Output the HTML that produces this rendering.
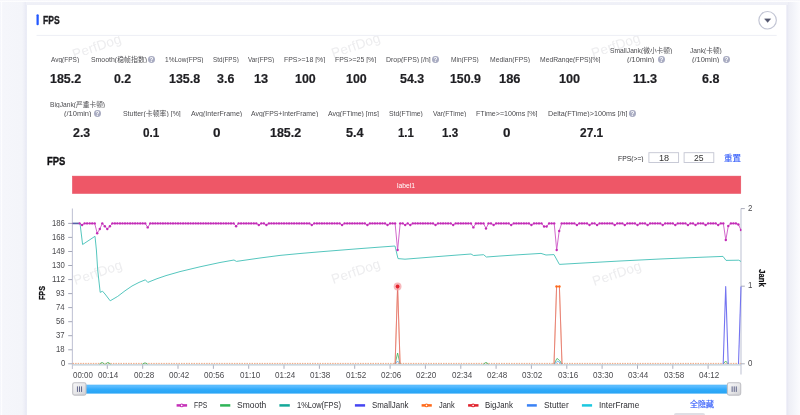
<!DOCTYPE html>
<html lang="zh-CN">
<head>
<meta charset="utf-8">
<title>PerfDog - FPS</title>
<style>

html,body{margin:0;padding:0;width:800px;height:415px;overflow:hidden;background:#f4f5fa}
.page{width:800px;height:415px;position:relative;overflow:hidden;background:#f4f5fa;font-family:"Liberation Sans", "Noto Sans CJK SC", sans-serif;}
.edge-l{position:absolute;left:0;top:0;width:28px;height:415px;background:linear-gradient(90deg,#f4f5fb 0,#f6f7fc 0.7px,#fdfdff 1.2px,#fcfcfe 1.9px,#f5f6fb 2.6px,#f4f5fa 22px,#eeeff7 24.5px,#e9eaf5 26px,#eceef7 26.8px,#fff 27.2px,#fff 28px)}
.edge-r{position:absolute;left:785px;top:0;width:15px;height:415px;background:linear-gradient(90deg,#fff 0,#fff 0.9px,#f1f1f9 1.4px,#e8e9f4 2.5px,#eeeff6 4px,#f1f2f8 7px,#f7f8fc 12px,#fbfbfe 15px)}
.edge-t{position:absolute;left:0;top:0;width:800px;height:2px;background:linear-gradient(180deg,#f5f5fa 0,#f8f8fc 0.6px,#fefeff 1px,#fdfdfe 1.8px,#f8f8fc 2px)}
.band-t{position:absolute;left:26px;top:2px;width:762px;height:3px;background:linear-gradient(180deg,#f4f5fa 0,#f0f1f8 0.5px,#eff0f7 2.5px,#f3f4fa 3px)}
.card{position:absolute;left:27px;top:5px;width:759px;height:410px;background:#fff}
.t{position:absolute;white-space:nowrap;transform-origin:0 50%;display:block}
.q{position:absolute;border-radius:50%;background:#a9acc2;color:#fff;text-align:center;font-weight:700}
.wm{position:absolute;width:60px;height:20px;line-height:20px;text-align:center;font-size:13.5px;color:#ededef;transform:rotate(-19deg);letter-spacing:.2px}
.plot{position:absolute;left:0;top:0}
.nxt{position:absolute;left:674px;top:413px;width:31px;height:6px;background:#dfdfe5;border-radius:2px}
.ylab{position:absolute;white-space:nowrap;font-weight:700;color:#111114;text-align:center}

</style>
</head>
<body>
<div class="page">
<div class="edge-l"></div><div class="edge-r"></div><div class="band-t"></div><div class="edge-t"></div>
<div class="card"></div>
<span class="wm" style="left:67.0px;top:37.0px">PerfDog</span>
<span class="wm" style="left:326.0px;top:36.0px">PerfDog</span>
<span class="wm" style="left:586.0px;top:36.0px">PerfDog</span>
<span class="wm" style="left:67.5px;top:262.8px">PerfDog</span>
<span class="wm" style="left:326.0px;top:261.5px">PerfDog</span>
<span class="wm" style="left:586.5px;top:263.5px">PerfDog</span>
<div class="nxt"></div>
<svg class="plot" width="800" height="415" viewBox="0 0 800 415">
<defs><linearGradient id="tg" x1="0" y1="0" x2="0" y2="1"><stop offset="0" stop-color="#4cb2f6"/><stop offset=".12" stop-color="#60bfff"/><stop offset=".36" stop-color="#46b3fd"/><stop offset=".52" stop-color="#30abfa"/><stop offset="1" stop-color="#29a4f4"/></linearGradient><linearGradient id="hg" x1="0" y1="0" x2="1" y2="1"><stop offset="0" stop-color="#f8f8f9"/><stop offset=".55" stop-color="#e6e6e8"/><stop offset="1" stop-color="#cfcfd3"/></linearGradient></defs>
<rect x="36.5" y="14.25" width="2.25" height="11.1" rx="1.1" fill="#2358ff"/>
<line x1="36.5" y1="35.4" x2="776.7" y2="35.4" stroke="#edeff5" stroke-width="1"/>
<circle cx="767.6" cy="20.25" r="8.75" fill="#fff" stroke="#c2c5d4" stroke-width="1.15"/>
<path d="M764.45 18.85 L770.85 18.85 L767.65 22.55 Z" fill="#52556d" stroke="#52556d" stroke-width="0.3" stroke-linejoin="round"/>
<rect x="72.4" y="176.1" width="668.4" height="17.4" fill="#ee5767" stroke="#e64d60" stroke-width="0.5"/>
<rect x="648.9" y="152.7" width="29.7" height="9.8" fill="#fff" stroke="#c3c5d2" stroke-width="0.9"/>
<rect x="684.1" y="152.7" width="29.7" height="9.8" fill="#fff" stroke="#c3c5d2" stroke-width="0.9"/>
<rect x="80" y="384.7" width="654" height="8.9" fill="url(#tg)"/>
<rect x="72.7" y="382.7" width="13.3" height="12.4" rx="1.8" fill="url(#hg)" stroke="#c0c0c5" stroke-width="1.1"/>
<rect x="76.95" y="386.4" width="0.95" height="5.5" fill="#5a5f85"/>
<rect x="79.05" y="386.4" width="0.95" height="5.5" fill="#5a5f85"/>
<rect x="81.10" y="386.4" width="0.95" height="5.5" fill="#5a5f85"/>
<rect x="727.4" y="382.7" width="13.3" height="12.4" rx="1.8" fill="url(#hg)" stroke="#c0c0c5" stroke-width="1.1"/>
<rect x="731.65" y="386.4" width="0.95" height="5.5" fill="#5a5f85"/>
<rect x="733.75" y="386.4" width="0.95" height="5.5" fill="#5a5f85"/>
<rect x="735.80" y="386.4" width="0.95" height="5.5" fill="#5a5f85"/>
<line x1="72.4" y1="208.4" x2="72.4" y2="369" stroke="#c3c6d6" stroke-width="1.1"/>
<line x1="741.0" y1="208.4" x2="741.0" y2="374.4" stroke="#c3c6d6" stroke-width="1.1"/>
<line x1="68.2" y1="223.4" x2="72.1" y2="223.4" stroke="#9a9db0" stroke-width="0.9"/>
<line x1="68.2" y1="237.4" x2="72.1" y2="237.4" stroke="#9a9db0" stroke-width="0.9"/>
<line x1="68.2" y1="251.5" x2="72.1" y2="251.5" stroke="#9a9db0" stroke-width="0.9"/>
<line x1="68.2" y1="265.5" x2="72.1" y2="265.5" stroke="#9a9db0" stroke-width="0.9"/>
<line x1="68.2" y1="279.6" x2="72.1" y2="279.6" stroke="#9a9db0" stroke-width="0.9"/>
<line x1="68.2" y1="293.6" x2="72.1" y2="293.6" stroke="#9a9db0" stroke-width="0.9"/>
<line x1="68.2" y1="307.6" x2="72.1" y2="307.6" stroke="#9a9db0" stroke-width="0.9"/>
<line x1="68.2" y1="321.7" x2="72.1" y2="321.7" stroke="#9a9db0" stroke-width="0.9"/>
<line x1="68.2" y1="335.7" x2="72.1" y2="335.7" stroke="#9a9db0" stroke-width="0.9"/>
<line x1="68.2" y1="349.8" x2="72.1" y2="349.8" stroke="#9a9db0" stroke-width="0.9"/>
<line x1="68.2" y1="363.8" x2="72.1" y2="363.8" stroke="#9a9db0" stroke-width="0.9"/>
<line x1="741.0" y1="208.6" x2="744.8" y2="208.6" stroke="#a3a5b4" stroke-width="0.9"/>
<line x1="741.0" y1="286.2" x2="744.8" y2="286.2" stroke="#a3a5b4" stroke-width="0.9"/>
<line x1="741.0" y1="363.8" x2="744.8" y2="363.8" stroke="#a3a5b4" stroke-width="0.9"/>
<line x1="107.3" y1="364.5" x2="107.3" y2="368.8" stroke="#a7a9b8" stroke-width="0.95"/>
<line x1="142.7" y1="364.5" x2="142.7" y2="368.8" stroke="#a7a9b8" stroke-width="0.95"/>
<line x1="178.0" y1="364.5" x2="178.0" y2="368.8" stroke="#a7a9b8" stroke-width="0.95"/>
<line x1="213.4" y1="364.5" x2="213.4" y2="368.8" stroke="#a7a9b8" stroke-width="0.95"/>
<line x1="248.7" y1="364.5" x2="248.7" y2="368.8" stroke="#a7a9b8" stroke-width="0.95"/>
<line x1="284.0" y1="364.5" x2="284.0" y2="368.8" stroke="#a7a9b8" stroke-width="0.95"/>
<line x1="319.4" y1="364.5" x2="319.4" y2="368.8" stroke="#a7a9b8" stroke-width="0.95"/>
<line x1="354.7" y1="364.5" x2="354.7" y2="368.8" stroke="#a7a9b8" stroke-width="0.95"/>
<line x1="390.1" y1="364.5" x2="390.1" y2="368.8" stroke="#a7a9b8" stroke-width="0.95"/>
<line x1="425.4" y1="364.5" x2="425.4" y2="368.8" stroke="#a7a9b8" stroke-width="0.95"/>
<line x1="460.8" y1="364.5" x2="460.8" y2="368.8" stroke="#a7a9b8" stroke-width="0.95"/>
<line x1="496.1" y1="364.5" x2="496.1" y2="368.8" stroke="#a7a9b8" stroke-width="0.95"/>
<line x1="531.4" y1="364.5" x2="531.4" y2="368.8" stroke="#a7a9b8" stroke-width="0.95"/>
<line x1="566.8" y1="364.5" x2="566.8" y2="368.8" stroke="#a7a9b8" stroke-width="0.95"/>
<line x1="602.1" y1="364.5" x2="602.1" y2="368.8" stroke="#a7a9b8" stroke-width="0.95"/>
<line x1="637.5" y1="364.5" x2="637.5" y2="368.8" stroke="#a7a9b8" stroke-width="0.95"/>
<line x1="672.8" y1="364.5" x2="672.8" y2="368.8" stroke="#a7a9b8" stroke-width="0.95"/>
<line x1="708.1" y1="364.5" x2="708.1" y2="368.8" stroke="#a7a9b8" stroke-width="0.95"/>
<line x1="72.6" y1="364.8" x2="741.0" y2="364.8" stroke="#bccbd6" stroke-width="1.3"/>
<line x1="72.6" y1="363.4" x2="741.0" y2="363.4" stroke="#ea8a58" stroke-width="0.9" stroke-dasharray="1.5 1.02" opacity=".85"/>
<polyline points="72.6,223.3 80.0,223.3 82.6,244.5 95.0,236.3 96.4,250.0 97.7,270.0 100.2,292.4 102.5,291.2 105.0,294.0 110.2,300.8 117.7,296.4 125.0,290.8 132.0,286.0 139.0,282.4 145.4,279.8 147.8,282.4 157.0,278.7 166.0,275.6 180.0,271.6 200.0,266.8 220.0,262.5 234.0,260.0 236.4,261.4 260.0,258.0 280.0,255.4 300.0,253.5 320.0,251.8 340.0,250.2 360.0,248.6 380.0,247.1 395.0,246.0 398.0,258.6 405.0,259.2 430.0,257.2 450.0,255.6 471.0,254.0 473.6,255.5 483.6,254.7 486.4,257.0 500.0,256.0 520.0,254.7 541.0,253.4 546.0,255.0 554.0,254.6 559.4,264.4 580.0,263.2 620.0,261.0 660.0,259.0 700.0,257.3 723.0,256.4 726.0,260.4 738.8,260.2 741.0,261.5" fill="none" stroke="#4cc3bb" stroke-width="0.95" stroke-linejoin="round" />
<polyline points="99.5,364.0 102.0,362.4 104.5,364.0" fill="none" stroke="#3cb45a" stroke-width="0.8" stroke-linejoin="round" />
<polyline points="105.5,364.0 108.0,362.4 110.5,364.0" fill="none" stroke="#3cb45a" stroke-width="0.8" stroke-linejoin="round" />
<polyline points="142.5,364.0 145.0,362.8 147.5,364.0" fill="none" stroke="#3cb45a" stroke-width="0.8" stroke-linejoin="round" />
<polyline points="483.5,364.0 486.0,362.4 488.5,364.0" fill="none" stroke="#3cb45a" stroke-width="0.8" stroke-linejoin="round" />
<polyline points="723.2,364.0 725.7,361.0 728.2,364.0" fill="none" stroke="#3cb45a" stroke-width="0.8" stroke-linejoin="round" />
<polyline points="395.1,364.0 397.6,353.0 400.1,364.0" fill="none" stroke="#3cb45a" stroke-width="0.8" stroke-linejoin="round" />
<polyline points="395.1,364.0 397.6,361.0 400.1,364.0" fill="none" stroke="#4aa3ee" stroke-width="0.8" stroke-linejoin="round" />
<polyline points="554.0,364.0 557.0,358.4 559.6,360.5 562.0,364.0" fill="none" stroke="#3cb45a" stroke-width="0.8" stroke-linejoin="round" />
<polyline points="554.0,364.0 557.8,361.2 562.0,364.0" fill="none" stroke="#4aa3ee" stroke-width="0.8" stroke-linejoin="round" />
<polyline points="395.1,364.0 397.6,286.5 400.1,364.0" fill="none" stroke="#f7a070" stroke-width="0.9" stroke-linejoin="round" />
<polyline points="395.1,364.0 397.6,286.5 400.1,364.0" fill="none" stroke="#dc6670" stroke-width="0.8" stroke-linejoin="round" opacity=".8"/>
<circle cx="397.6" cy="286.5" r="3.9" fill="#f4a0a6" opacity=".75"/>
<circle cx="397.6" cy="286.5" r="1.9" fill="#e5222c"/>
<polyline points="554.0,364.0 556.6,286.5 559.4,286.5 562.0,364.0" fill="none" stroke="#f7a070" stroke-width="0.9" stroke-linejoin="round" />
<polyline points="554.0,364.0 556.6,286.5 559.4,286.5 562.0,364.0" fill="none" stroke="#dc6670" stroke-width="0.8" stroke-linejoin="round" opacity=".75"/>
<circle cx="556.6" cy="286.5" r="1.3" fill="#ff6a1a"/><circle cx="559.4" cy="286.5" r="1.3" fill="#ff6a1a"/>
<polyline points="723.2,364.0 725.7,286.5 728.2,364.0" fill="none" stroke="#7474f0" stroke-width="1.1" stroke-linejoin="round" />
<polyline points="738.5,364.0 741.0,286.5" fill="none" stroke="#7474f0" stroke-width="1.1" stroke-linejoin="round" />
<clipPath id="cp"><rect x="71" y="205" width="670.4" height="162"/></clipPath>
<g clip-path="url(#cp)">
<polyline points="72.0,223.4 74.5,223.4 77.0,223.4 79.6,223.4 82.1,225.0 84.6,223.4 87.1,223.4 89.7,223.4 92.2,223.4 94.7,223.4 97.2,233.2 99.8,229.0 102.3,223.4 104.8,226.3 107.3,229.0 109.9,226.3 112.4,223.4 114.9,223.4 117.4,223.4 120.0,223.4 122.5,223.4 125.0,223.4 127.5,223.4 130.1,223.4 132.6,223.4 135.1,223.4 137.6,223.4 140.2,223.4 142.7,223.4 145.2,223.4 147.7,227.4 150.3,223.4 152.8,223.4 155.3,223.4 157.8,223.4 160.4,223.4 162.9,223.4 165.4,223.4 167.9,223.4 170.5,223.4 173.0,223.4 175.5,223.4 178.0,223.4 180.5,223.4 183.1,223.4 185.6,223.4 188.1,223.4 190.6,223.4 193.2,223.4 195.7,223.4 198.2,223.4 200.7,223.4 203.3,223.4 205.8,223.4 208.3,223.4 210.8,223.4 213.4,223.4 215.9,223.4 218.4,223.4 220.9,223.4 223.5,223.4 226.0,223.4 228.5,223.4 231.0,223.4 233.6,223.4 236.1,226.2 238.6,223.4 241.1,223.4 243.7,223.4 246.2,223.4 248.7,223.4 251.2,223.4 253.8,223.4 256.3,223.4 258.8,225.0 261.3,223.4 263.9,223.4 266.4,225.0 268.9,223.4 271.4,223.4 273.9,223.4 276.5,223.4 279.0,223.4 281.5,223.4 284.0,223.4 286.6,223.4 289.1,223.4 291.6,223.4 294.1,223.4 296.7,223.4 299.2,223.4 301.7,223.4 304.2,223.4 306.8,223.4 309.3,223.4 311.8,225.0 314.3,223.4 316.9,223.4 319.4,223.4 321.9,223.4 324.4,223.4 327.0,223.4 329.5,223.4 332.0,223.4 334.5,223.4 337.1,223.4 339.6,223.4 342.1,225.0 344.6,223.4 347.2,223.4 349.7,223.4 352.2,223.4 354.7,223.4 357.3,223.4 359.8,223.4 362.3,223.4 364.8,223.4 367.4,225.0 369.9,223.4 372.4,223.4 374.9,223.4 377.4,223.4 380.0,223.4 382.5,223.4 385.0,223.4 387.5,225.0 390.1,223.4 392.6,223.4 395.1,223.4 397.6,250.0 400.2,223.4 402.7,223.4 405.2,225.0 407.7,223.4 410.3,225.0 412.8,223.4 415.3,223.4 417.8,223.4 420.4,223.4 422.9,223.4 425.4,223.4 427.9,223.4 430.5,223.4 433.0,223.4 435.5,225.0 438.0,223.4 440.6,223.4 443.1,223.4 445.6,223.4 448.1,223.4 450.7,223.4 453.2,225.0 455.7,223.4 458.2,223.4 460.8,223.4 463.3,223.4 465.8,223.4 468.3,223.4 470.9,223.4 473.4,227.4 475.9,223.4 478.4,223.4 480.9,223.4 483.5,223.4 486.0,228.6 488.5,223.4 491.0,223.4 493.6,225.0 496.1,223.4 498.6,223.4 501.1,223.4 503.7,223.4 506.2,223.4 508.7,223.4 511.2,225.0 513.8,223.4 516.3,223.4 518.8,223.4 521.3,223.4 523.9,223.4 526.4,223.4 528.9,223.4 531.4,225.0 534.0,223.4 536.5,223.4 539.0,223.4 541.5,223.4 544.1,226.5 546.6,226.5 549.1,223.4 551.6,223.4 554.2,223.4 556.7,250.0 559.2,231.0 561.7,223.4 564.3,223.4 566.8,223.4 569.3,223.4 571.8,223.4 574.3,223.4 576.9,225.0 579.4,223.4 581.9,223.4 584.4,223.4 587.0,223.4 589.5,225.0 592.0,223.4 594.5,223.4 597.1,225.0 599.6,223.4 602.1,223.4 604.6,223.4 607.2,223.4 609.7,223.4 612.2,223.4 614.7,225.0 617.3,223.4 619.8,223.4 622.3,223.4 624.8,225.0 627.4,223.4 629.9,223.4 632.4,223.4 634.9,223.4 637.5,225.0 640.0,223.4 642.5,223.4 645.0,223.4 647.6,225.0 650.1,223.4 652.6,223.4 655.1,223.4 657.7,223.4 660.2,223.4 662.7,225.0 665.2,223.4 667.8,223.4 670.3,223.4 672.8,223.4 675.3,225.0 677.8,223.4 680.4,223.4 682.9,223.4 685.4,223.4 687.9,225.0 690.5,223.4 693.0,223.4 695.5,225.0 698.0,223.4 700.6,223.4 703.1,223.4 705.6,225.0 708.1,223.4 710.7,223.4 713.2,223.4 715.7,223.4 718.2,225.0 720.8,223.4 723.3,223.4 725.8,240.0 728.3,226.0 730.9,223.4 733.4,223.4 735.9,223.4 738.4,224.5 741.0,230.0" fill="none" stroke="#d060c8" stroke-width="0.95" stroke-linejoin="round" />
<g fill="#c22bb6"><circle cx="79.6" cy="223.4" r="1.2"/><circle cx="82.1" cy="225.0" r="1.2"/><circle cx="84.6" cy="223.4" r="1.2"/><circle cx="87.1" cy="223.4" r="1.2"/><circle cx="89.7" cy="223.4" r="1.2"/><circle cx="92.2" cy="223.4" r="1.2"/><circle cx="94.7" cy="223.4" r="1.2"/><circle cx="97.2" cy="233.2" r="1.2"/><circle cx="99.8" cy="229.0" r="1.2"/><circle cx="102.3" cy="223.4" r="1.2"/><circle cx="104.8" cy="226.3" r="1.2"/><circle cx="107.3" cy="229.0" r="1.2"/><circle cx="109.9" cy="226.3" r="1.2"/><circle cx="112.4" cy="223.4" r="1.2"/><circle cx="114.9" cy="223.4" r="1.2"/><circle cx="117.4" cy="223.4" r="1.2"/><circle cx="120.0" cy="223.4" r="1.2"/><circle cx="122.5" cy="223.4" r="1.2"/><circle cx="125.0" cy="223.4" r="1.2"/><circle cx="127.5" cy="223.4" r="1.2"/><circle cx="130.1" cy="223.4" r="1.2"/><circle cx="132.6" cy="223.4" r="1.2"/><circle cx="135.1" cy="223.4" r="1.2"/><circle cx="137.6" cy="223.4" r="1.2"/><circle cx="140.2" cy="223.4" r="1.2"/><circle cx="142.7" cy="223.4" r="1.2"/><circle cx="145.2" cy="223.4" r="1.2"/><circle cx="147.7" cy="227.4" r="1.2"/><circle cx="150.3" cy="223.4" r="1.2"/><circle cx="152.8" cy="223.4" r="1.2"/><circle cx="155.3" cy="223.4" r="1.2"/><circle cx="157.8" cy="223.4" r="1.2"/><circle cx="160.4" cy="223.4" r="1.2"/><circle cx="162.9" cy="223.4" r="1.2"/><circle cx="165.4" cy="223.4" r="1.2"/><circle cx="167.9" cy="223.4" r="1.2"/><circle cx="170.5" cy="223.4" r="1.2"/><circle cx="173.0" cy="223.4" r="1.2"/><circle cx="175.5" cy="223.4" r="1.2"/><circle cx="178.0" cy="223.4" r="1.2"/><circle cx="180.5" cy="223.4" r="1.2"/><circle cx="183.1" cy="223.4" r="1.2"/><circle cx="185.6" cy="223.4" r="1.2"/><circle cx="188.1" cy="223.4" r="1.2"/><circle cx="190.6" cy="223.4" r="1.2"/><circle cx="193.2" cy="223.4" r="1.2"/><circle cx="195.7" cy="223.4" r="1.2"/><circle cx="198.2" cy="223.4" r="1.2"/><circle cx="200.7" cy="223.4" r="1.2"/><circle cx="203.3" cy="223.4" r="1.2"/><circle cx="205.8" cy="223.4" r="1.2"/><circle cx="208.3" cy="223.4" r="1.2"/><circle cx="210.8" cy="223.4" r="1.2"/><circle cx="213.4" cy="223.4" r="1.2"/><circle cx="215.9" cy="223.4" r="1.2"/><circle cx="218.4" cy="223.4" r="1.2"/><circle cx="220.9" cy="223.4" r="1.2"/><circle cx="223.5" cy="223.4" r="1.2"/><circle cx="226.0" cy="223.4" r="1.2"/><circle cx="228.5" cy="223.4" r="1.2"/><circle cx="231.0" cy="223.4" r="1.2"/><circle cx="233.6" cy="223.4" r="1.2"/><circle cx="236.1" cy="226.2" r="1.2"/><circle cx="238.6" cy="223.4" r="1.2"/><circle cx="241.1" cy="223.4" r="1.2"/><circle cx="243.7" cy="223.4" r="1.2"/><circle cx="246.2" cy="223.4" r="1.2"/><circle cx="248.7" cy="223.4" r="1.2"/><circle cx="251.2" cy="223.4" r="1.2"/><circle cx="253.8" cy="223.4" r="1.2"/><circle cx="256.3" cy="223.4" r="1.2"/><circle cx="258.8" cy="225.0" r="1.2"/><circle cx="261.3" cy="223.4" r="1.2"/><circle cx="263.9" cy="223.4" r="1.2"/><circle cx="266.4" cy="225.0" r="1.2"/><circle cx="268.9" cy="223.4" r="1.2"/><circle cx="271.4" cy="223.4" r="1.2"/><circle cx="273.9" cy="223.4" r="1.2"/><circle cx="276.5" cy="223.4" r="1.2"/><circle cx="279.0" cy="223.4" r="1.2"/><circle cx="281.5" cy="223.4" r="1.2"/><circle cx="284.0" cy="223.4" r="1.2"/><circle cx="286.6" cy="223.4" r="1.2"/><circle cx="289.1" cy="223.4" r="1.2"/><circle cx="291.6" cy="223.4" r="1.2"/><circle cx="294.1" cy="223.4" r="1.2"/><circle cx="296.7" cy="223.4" r="1.2"/><circle cx="299.2" cy="223.4" r="1.2"/><circle cx="301.7" cy="223.4" r="1.2"/><circle cx="304.2" cy="223.4" r="1.2"/><circle cx="306.8" cy="223.4" r="1.2"/><circle cx="309.3" cy="223.4" r="1.2"/><circle cx="311.8" cy="225.0" r="1.2"/><circle cx="314.3" cy="223.4" r="1.2"/><circle cx="316.9" cy="223.4" r="1.2"/><circle cx="319.4" cy="223.4" r="1.2"/><circle cx="321.9" cy="223.4" r="1.2"/><circle cx="324.4" cy="223.4" r="1.2"/><circle cx="327.0" cy="223.4" r="1.2"/><circle cx="329.5" cy="223.4" r="1.2"/><circle cx="332.0" cy="223.4" r="1.2"/><circle cx="334.5" cy="223.4" r="1.2"/><circle cx="337.1" cy="223.4" r="1.2"/><circle cx="339.6" cy="223.4" r="1.2"/><circle cx="342.1" cy="225.0" r="1.2"/><circle cx="344.6" cy="223.4" r="1.2"/><circle cx="347.2" cy="223.4" r="1.2"/><circle cx="349.7" cy="223.4" r="1.2"/><circle cx="352.2" cy="223.4" r="1.2"/><circle cx="354.7" cy="223.4" r="1.2"/><circle cx="357.3" cy="223.4" r="1.2"/><circle cx="359.8" cy="223.4" r="1.2"/><circle cx="362.3" cy="223.4" r="1.2"/><circle cx="364.8" cy="223.4" r="1.2"/><circle cx="367.4" cy="225.0" r="1.2"/><circle cx="369.9" cy="223.4" r="1.2"/><circle cx="372.4" cy="223.4" r="1.2"/><circle cx="374.9" cy="223.4" r="1.2"/><circle cx="377.4" cy="223.4" r="1.2"/><circle cx="380.0" cy="223.4" r="1.2"/><circle cx="382.5" cy="223.4" r="1.2"/><circle cx="385.0" cy="223.4" r="1.2"/><circle cx="387.5" cy="225.0" r="1.2"/><circle cx="390.1" cy="223.4" r="1.2"/><circle cx="392.6" cy="223.4" r="1.2"/><circle cx="395.1" cy="223.4" r="1.2"/><circle cx="397.6" cy="250.0" r="1.2"/><circle cx="400.2" cy="223.4" r="1.2"/><circle cx="402.7" cy="223.4" r="1.2"/><circle cx="405.2" cy="225.0" r="1.2"/><circle cx="407.7" cy="223.4" r="1.2"/><circle cx="410.3" cy="225.0" r="1.2"/><circle cx="412.8" cy="223.4" r="1.2"/><circle cx="415.3" cy="223.4" r="1.2"/><circle cx="417.8" cy="223.4" r="1.2"/><circle cx="420.4" cy="223.4" r="1.2"/><circle cx="422.9" cy="223.4" r="1.2"/><circle cx="425.4" cy="223.4" r="1.2"/><circle cx="427.9" cy="223.4" r="1.2"/><circle cx="430.5" cy="223.4" r="1.2"/><circle cx="433.0" cy="223.4" r="1.2"/><circle cx="435.5" cy="225.0" r="1.2"/><circle cx="438.0" cy="223.4" r="1.2"/><circle cx="440.6" cy="223.4" r="1.2"/><circle cx="443.1" cy="223.4" r="1.2"/><circle cx="445.6" cy="223.4" r="1.2"/><circle cx="448.1" cy="223.4" r="1.2"/><circle cx="450.7" cy="223.4" r="1.2"/><circle cx="453.2" cy="225.0" r="1.2"/><circle cx="455.7" cy="223.4" r="1.2"/><circle cx="458.2" cy="223.4" r="1.2"/><circle cx="460.8" cy="223.4" r="1.2"/><circle cx="463.3" cy="223.4" r="1.2"/><circle cx="465.8" cy="223.4" r="1.2"/><circle cx="468.3" cy="223.4" r="1.2"/><circle cx="470.9" cy="223.4" r="1.2"/><circle cx="473.4" cy="227.4" r="1.2"/><circle cx="475.9" cy="223.4" r="1.2"/><circle cx="478.4" cy="223.4" r="1.2"/><circle cx="480.9" cy="223.4" r="1.2"/><circle cx="483.5" cy="223.4" r="1.2"/><circle cx="486.0" cy="228.6" r="1.2"/><circle cx="488.5" cy="223.4" r="1.2"/><circle cx="491.0" cy="223.4" r="1.2"/><circle cx="493.6" cy="225.0" r="1.2"/><circle cx="496.1" cy="223.4" r="1.2"/><circle cx="498.6" cy="223.4" r="1.2"/><circle cx="501.1" cy="223.4" r="1.2"/><circle cx="503.7" cy="223.4" r="1.2"/><circle cx="506.2" cy="223.4" r="1.2"/><circle cx="508.7" cy="223.4" r="1.2"/><circle cx="511.2" cy="225.0" r="1.2"/><circle cx="513.8" cy="223.4" r="1.2"/><circle cx="516.3" cy="223.4" r="1.2"/><circle cx="518.8" cy="223.4" r="1.2"/><circle cx="521.3" cy="223.4" r="1.2"/><circle cx="523.9" cy="223.4" r="1.2"/><circle cx="526.4" cy="223.4" r="1.2"/><circle cx="528.9" cy="223.4" r="1.2"/><circle cx="531.4" cy="225.0" r="1.2"/><circle cx="534.0" cy="223.4" r="1.2"/><circle cx="536.5" cy="223.4" r="1.2"/><circle cx="539.0" cy="223.4" r="1.2"/><circle cx="541.5" cy="223.4" r="1.2"/><circle cx="544.1" cy="226.5" r="1.2"/><circle cx="546.6" cy="226.5" r="1.2"/><circle cx="549.1" cy="223.4" r="1.2"/><circle cx="551.6" cy="223.4" r="1.2"/><circle cx="554.2" cy="223.4" r="1.2"/><circle cx="556.7" cy="250.0" r="1.2"/><circle cx="559.2" cy="231.0" r="1.2"/><circle cx="561.7" cy="223.4" r="1.2"/><circle cx="564.3" cy="223.4" r="1.2"/><circle cx="566.8" cy="223.4" r="1.2"/><circle cx="569.3" cy="223.4" r="1.2"/><circle cx="571.8" cy="223.4" r="1.2"/><circle cx="574.3" cy="223.4" r="1.2"/><circle cx="576.9" cy="225.0" r="1.2"/><circle cx="579.4" cy="223.4" r="1.2"/><circle cx="581.9" cy="223.4" r="1.2"/><circle cx="584.4" cy="223.4" r="1.2"/><circle cx="587.0" cy="223.4" r="1.2"/><circle cx="589.5" cy="225.0" r="1.2"/><circle cx="592.0" cy="223.4" r="1.2"/><circle cx="594.5" cy="223.4" r="1.2"/><circle cx="597.1" cy="225.0" r="1.2"/><circle cx="599.6" cy="223.4" r="1.2"/><circle cx="602.1" cy="223.4" r="1.2"/><circle cx="604.6" cy="223.4" r="1.2"/><circle cx="607.2" cy="223.4" r="1.2"/><circle cx="609.7" cy="223.4" r="1.2"/><circle cx="612.2" cy="223.4" r="1.2"/><circle cx="614.7" cy="225.0" r="1.2"/><circle cx="617.3" cy="223.4" r="1.2"/><circle cx="619.8" cy="223.4" r="1.2"/><circle cx="622.3" cy="223.4" r="1.2"/><circle cx="624.8" cy="225.0" r="1.2"/><circle cx="627.4" cy="223.4" r="1.2"/><circle cx="629.9" cy="223.4" r="1.2"/><circle cx="632.4" cy="223.4" r="1.2"/><circle cx="634.9" cy="223.4" r="1.2"/><circle cx="637.5" cy="225.0" r="1.2"/><circle cx="640.0" cy="223.4" r="1.2"/><circle cx="642.5" cy="223.4" r="1.2"/><circle cx="645.0" cy="223.4" r="1.2"/><circle cx="647.6" cy="225.0" r="1.2"/><circle cx="650.1" cy="223.4" r="1.2"/><circle cx="652.6" cy="223.4" r="1.2"/><circle cx="655.1" cy="223.4" r="1.2"/><circle cx="657.7" cy="223.4" r="1.2"/><circle cx="660.2" cy="223.4" r="1.2"/><circle cx="662.7" cy="225.0" r="1.2"/><circle cx="665.2" cy="223.4" r="1.2"/><circle cx="667.8" cy="223.4" r="1.2"/><circle cx="670.3" cy="223.4" r="1.2"/><circle cx="672.8" cy="223.4" r="1.2"/><circle cx="675.3" cy="225.0" r="1.2"/><circle cx="677.8" cy="223.4" r="1.2"/><circle cx="680.4" cy="223.4" r="1.2"/><circle cx="682.9" cy="223.4" r="1.2"/><circle cx="685.4" cy="223.4" r="1.2"/><circle cx="687.9" cy="225.0" r="1.2"/><circle cx="690.5" cy="223.4" r="1.2"/><circle cx="693.0" cy="223.4" r="1.2"/><circle cx="695.5" cy="225.0" r="1.2"/><circle cx="698.0" cy="223.4" r="1.2"/><circle cx="700.6" cy="223.4" r="1.2"/><circle cx="703.1" cy="223.4" r="1.2"/><circle cx="705.6" cy="225.0" r="1.2"/><circle cx="708.1" cy="223.4" r="1.2"/><circle cx="710.7" cy="223.4" r="1.2"/><circle cx="713.2" cy="223.4" r="1.2"/><circle cx="715.7" cy="223.4" r="1.2"/><circle cx="718.2" cy="225.0" r="1.2"/><circle cx="720.8" cy="223.4" r="1.2"/><circle cx="723.3" cy="223.4" r="1.2"/><circle cx="725.8" cy="240.0" r="1.2"/><circle cx="728.3" cy="226.0" r="1.2"/><circle cx="730.9" cy="223.4" r="1.2"/><circle cx="733.4" cy="223.4" r="1.2"/><circle cx="735.9" cy="223.4" r="1.2"/><circle cx="738.4" cy="224.5" r="1.2"/><circle cx="741.0" cy="230.0" r="1.2"/></g>
<line x1="72.6" y1="223.5" x2="78.6" y2="223.5" stroke="#5a64a8" stroke-width="1.4"/>
</g>
<line x1="176.6" y1="405.4" x2="187.1" y2="405.4" stroke="#c530b8" stroke-width="2.5"/>
<circle cx="181.7" cy="405.4" r="1.4" fill="#fff" stroke="#c530b8" stroke-width="1.1"/>
<line x1="220.1" y1="405.4" x2="230.3" y2="405.4" stroke="#2fb457" stroke-width="2.5"/>
<line x1="279.4" y1="405.4" x2="289.8" y2="405.4" stroke="#14a899" stroke-width="2.5"/>
<line x1="354.9" y1="405.4" x2="365.1" y2="405.4" stroke="#4646f2" stroke-width="2.5"/>
<line x1="421.6" y1="405.4" x2="431.8" y2="405.4" stroke="#ff6a1a" stroke-width="2.5"/>
<circle cx="426.5" cy="405.4" r="1.4" fill="#fff" stroke="#ff6a1a" stroke-width="1.1"/>
<line x1="468.1" y1="405.4" x2="478.5" y2="405.4" stroke="#e0202a" stroke-width="2.5"/>
<circle cx="473.1" cy="405.4" r="1.4" fill="#fff" stroke="#e0202a" stroke-width="1.1"/>
<line x1="526.9" y1="405.4" x2="536.8" y2="405.4" stroke="#3a82f5" stroke-width="2.5"/>
<line x1="581.9" y1="405.4" x2="592.1" y2="405.4" stroke="#1cc8e0" stroke-width="2.5"/>
</svg>
<div class="ylab" style="left:12.1px;top:283.1px;font-size:18.4px;line-height:20px;height:20px;width:60px;-webkit-text-stroke:0.5px #111114;transform:rotate(-90deg) scale(.395,.5)">FPS</div>
<div class="ylab" style="left:732.4px;top:267.7px;font-size:18.4px;line-height:20px;height:20px;width:60px;-webkit-text-stroke:0.5px #111114;transform:rotate(90deg) scale(.42,.5)">Jank</div>
<span class="q" style="left:148.00px;top:56.45px;width:13.6px;height:13.6px;font-size:12.6px;line-height:14.4px;transform:scale(.5);transform-origin:0 0">?</span>
<span class="q" style="left:432.40px;top:56.45px;width:13.6px;height:13.6px;font-size:12.6px;line-height:14.4px;transform:scale(.5);transform-origin:0 0">?</span>
<span class="q" style="left:658.10px;top:56.45px;width:13.6px;height:13.6px;font-size:12.6px;line-height:14.4px;transform:scale(.5);transform-origin:0 0">?</span>
<span class="q" style="left:723.10px;top:56.45px;width:13.6px;height:13.6px;font-size:12.6px;line-height:14.4px;transform:scale(.5);transform-origin:0 0">?</span>
<span class="q" style="left:93.90px;top:110.45px;width:13.6px;height:13.6px;font-size:12.6px;line-height:14.4px;transform:scale(.5);transform-origin:0 0">?</span>
<span class="q" style="left:629.05px;top:110.45px;width:13.6px;height:13.6px;font-size:12.6px;line-height:14.4px;transform:scale(.5);transform-origin:0 0">?</span>
<span class="t" style="left:42.80px;top:4px;font-size:21.0px;line-height:32px;height:32px;color:#1c1c20;font-weight:700;transform:scale(0.4064,0.5);-webkit-text-stroke:0.70px #1c1c20;">FPS</span>
<span class="t" style="left:51.25px;top:48px;font-size:14.8px;line-height:22px;height:22px;color:#4c4c50;transform:scale(0.4391,0.5);">Avg(FPS)</span>
<span class="t" style="left:49.95px;top:60px;font-size:24.8px;line-height:38px;height:38px;color:#1e1e22;font-weight:700;transform:scale(0.5027,0.5);-webkit-text-stroke:0.36px #1e1e22;">185.2</span>
<span class="t" style="left:90.70px;top:48px;font-size:14.8px;line-height:22px;height:22px;color:#4c4c50;transform:scale(0.4673,0.5);">Smooth(稳帧指数)</span>
<span class="t" style="left:114.25px;top:60px;font-size:24.8px;line-height:38px;height:38px;color:#1e1e22;font-weight:700;transform:scale(0.4973,0.5);-webkit-text-stroke:0.36px #1e1e22;">0.2</span>
<span class="t" style="left:164.70px;top:48px;font-size:14.8px;line-height:22px;height:22px;color:#4c4c50;transform:scale(0.4422,0.5);">1%Low(FPS)</span>
<span class="t" style="left:168.50px;top:60px;font-size:24.8px;line-height:38px;height:38px;color:#1e1e22;font-weight:700;transform:scale(0.5027,0.5);-webkit-text-stroke:0.36px #1e1e22;">135.8</span>
<span class="t" style="left:213.00px;top:48px;font-size:14.8px;line-height:22px;height:22px;color:#4c4c50;transform:scale(0.4240,0.5);">Std(FPS)</span>
<span class="t" style="left:217.25px;top:60px;font-size:24.8px;line-height:38px;height:38px;color:#1e1e22;font-weight:700;transform:scale(0.5031,0.5);-webkit-text-stroke:0.36px #1e1e22;">3.6</span>
<span class="t" style="left:248.25px;top:48px;font-size:14.8px;line-height:22px;height:22px;color:#4c4c50;transform:scale(0.4334,0.5);">Var(FPS)</span>
<span class="t" style="left:254.35px;top:60px;font-size:24.8px;line-height:38px;height:38px;color:#1e1e22;font-weight:700;transform:scale(0.5164,0.5);-webkit-text-stroke:0.36px #1e1e22;">13</span>
<span class="t" style="left:283.80px;top:48px;font-size:14.8px;line-height:22px;height:22px;color:#4c4c50;transform:scale(0.4681,0.5);">FPS&gt;=18 [%]</span>
<span class="t" style="left:294.50px;top:60px;font-size:24.8px;line-height:38px;height:38px;color:#1e1e22;font-weight:700;transform:scale(0.5003,0.5);-webkit-text-stroke:0.36px #1e1e22;">100</span>
<span class="t" style="left:334.80px;top:48px;font-size:14.8px;line-height:22px;height:22px;color:#4c4c50;transform:scale(0.4681,0.5);">FPS&gt;=25 [%]</span>
<span class="t" style="left:345.50px;top:60px;font-size:24.8px;line-height:38px;height:38px;color:#1e1e22;font-weight:700;transform:scale(0.5003,0.5);-webkit-text-stroke:0.36px #1e1e22;">100</span>
<span class="t" style="left:386.00px;top:48px;font-size:14.8px;line-height:22px;height:22px;color:#4c4c50;transform:scale(0.4686,0.5);">Drop(FPS) [/h]</span>
<span class="t" style="left:400.45px;top:60px;font-size:24.8px;line-height:38px;height:38px;color:#1e1e22;font-weight:700;transform:scale(0.5024,0.5);-webkit-text-stroke:0.36px #1e1e22;">54.3</span>
<span class="t" style="left:450.80px;top:48px;font-size:14.8px;line-height:22px;height:22px;color:#4c4c50;transform:scale(0.4433,0.5);">Min(FPS)</span>
<span class="t" style="left:449.50px;top:60px;font-size:24.8px;line-height:38px;height:38px;color:#1e1e22;font-weight:700;transform:scale(0.4979,0.5);-webkit-text-stroke:0.36px #1e1e22;">150.9</span>
<span class="t" style="left:489.75px;top:48px;font-size:14.8px;line-height:22px;height:22px;color:#4c4c50;transform:scale(0.4594,0.5);">Median(FPS)</span>
<span class="t" style="left:499.25px;top:60px;font-size:24.8px;line-height:38px;height:38px;color:#1e1e22;font-weight:700;transform:scale(0.5184,0.5);-webkit-text-stroke:0.36px #1e1e22;">186</span>
<span class="t" style="left:539.50px;top:48px;font-size:14.8px;line-height:22px;height:22px;color:#4c4c50;transform:scale(0.4569,0.5);">MedRange(FPS)[%]</span>
<span class="t" style="left:559.25px;top:60px;font-size:24.8px;line-height:38px;height:38px;color:#1e1e22;font-weight:700;transform:scale(0.5112,0.5);-webkit-text-stroke:0.36px #1e1e22;">100</span>
<span class="t" style="left:609.75px;top:39px;font-size:14.8px;line-height:22px;height:22px;color:#4c4c50;transform:scale(0.4533,0.5);">SmallJank(微小卡顿)</span>
<span class="t" style="left:627.00px;top:48px;font-size:14.8px;line-height:22px;height:22px;color:#4c4c50;transform:scale(0.5029,0.5);">(/10min)</span>
<span class="t" style="left:633.10px;top:60px;font-size:24.8px;line-height:38px;height:38px;color:#1e1e22;font-weight:700;transform:scale(0.5138,0.5);-webkit-text-stroke:0.36px #1e1e22;">11.3</span>
<span class="t" style="left:689.75px;top:39px;font-size:14.8px;line-height:22px;height:22px;color:#4c4c50;transform:scale(0.4490,0.5);">Jank(卡顿)</span>
<span class="t" style="left:692.00px;top:48px;font-size:14.8px;line-height:22px;height:22px;color:#4c4c50;transform:scale(0.5029,0.5);">(/10min)</span>
<span class="t" style="left:701.50px;top:60px;font-size:24.8px;line-height:38px;height:38px;color:#1e1e22;font-weight:700;transform:scale(0.5046,0.5);-webkit-text-stroke:0.36px #1e1e22;">6.8</span>
<span class="t" style="left:49.75px;top:93px;font-size:14.8px;line-height:22px;height:22px;color:#4c4c50;transform:scale(0.4524,0.5);">BigJank(严重卡顿)</span>
<span class="t" style="left:63.50px;top:102px;font-size:14.8px;line-height:22px;height:22px;color:#4c4c50;transform:scale(0.5066,0.5);">(/10min)</span>
<span class="t" style="left:72.80px;top:114px;font-size:24.8px;line-height:38px;height:38px;color:#1e1e22;font-weight:700;transform:scale(0.4988,0.5);-webkit-text-stroke:0.36px #1e1e22;">2.3</span>
<span class="t" style="left:122.75px;top:102px;font-size:14.8px;line-height:22px;height:22px;color:#4c4c50;transform:scale(0.4683,0.5);">Stutter(卡顿率) [%]</span>
<span class="t" style="left:143.05px;top:114px;font-size:24.8px;line-height:38px;height:38px;color:#1e1e22;font-weight:700;transform:scale(0.4741,0.5);-webkit-text-stroke:0.36px #1e1e22;">0.1</span>
<span class="t" style="left:190.50px;top:102px;font-size:14.8px;line-height:22px;height:22px;color:#4c4c50;transform:scale(0.4765,0.5);">Avg(InterFrame)</span>
<span class="t" style="left:212.50px;top:114px;font-size:24.8px;line-height:38px;height:38px;color:#1e1e22;font-weight:700;transform:scale(0.5436,0.5);-webkit-text-stroke:0.36px #1e1e22;">0</span>
<span class="t" style="left:251.30px;top:102px;font-size:14.8px;line-height:22px;height:22px;color:#4c4c50;transform:scale(0.4638,0.5);">Avg(FPS+InterFrame)</span>
<span class="t" style="left:269.50px;top:114px;font-size:24.8px;line-height:38px;height:38px;color:#1e1e22;font-weight:700;transform:scale(0.5027,0.5);-webkit-text-stroke:0.36px #1e1e22;">185.2</span>
<span class="t" style="left:328.25px;top:102px;font-size:14.8px;line-height:22px;height:22px;color:#4c4c50;transform:scale(0.4700,0.5);">Avg(FTime) [ms]</span>
<span class="t" style="left:345.55px;top:114px;font-size:24.8px;line-height:38px;height:38px;color:#1e1e22;font-weight:700;transform:scale(0.5118,0.5);-webkit-text-stroke:0.36px #1e1e22;">5.4</span>
<span class="t" style="left:389.30px;top:102px;font-size:14.8px;line-height:22px;height:22px;color:#4c4c50;transform:scale(0.4616,0.5);">Std(FTime)</span>
<span class="t" style="left:398.05px;top:114px;font-size:24.8px;line-height:38px;height:38px;color:#1e1e22;font-weight:700;transform:scale(0.4611,0.5);-webkit-text-stroke:0.36px #1e1e22;">1.1</span>
<span class="t" style="left:432.75px;top:102px;font-size:14.8px;line-height:22px;height:22px;color:#4c4c50;transform:scale(0.4545,0.5);">Var(FTime)</span>
<span class="t" style="left:441.95px;top:114px;font-size:24.8px;line-height:38px;height:38px;color:#1e1e22;font-weight:700;transform:scale(0.4712,0.5);-webkit-text-stroke:0.36px #1e1e22;">1.3</span>
<span class="t" style="left:476.25px;top:102px;font-size:14.8px;line-height:22px;height:22px;color:#4c4c50;transform:scale(0.4784,0.5);">FTime&gt;=100ms [%]</span>
<span class="t" style="left:503.25px;top:114px;font-size:24.8px;line-height:38px;height:38px;color:#1e1e22;font-weight:700;transform:scale(0.5400,0.5);-webkit-text-stroke:0.36px #1e1e22;">0</span>
<span class="t" style="left:548.00px;top:102px;font-size:14.8px;line-height:22px;height:22px;color:#4c4c50;transform:scale(0.4862,0.5);">Delta(FTime)&gt;100ms [/h]</span>
<span class="t" style="left:579.75px;top:114px;font-size:24.8px;line-height:38px;height:38px;color:#1e1e22;font-weight:700;transform:scale(0.4807,0.5);-webkit-text-stroke:0.36px #1e1e22;">27.1</span>
<span class="t" style="left:46.90px;top:145px;font-size:22.0px;line-height:32px;height:32px;color:#111114;font-weight:700;transform:scale(0.4299,0.5);-webkit-text-stroke:0.70px #111114;">FPS</span>
<span class="t" style="left:617.90px;top:147px;font-size:15.0px;line-height:22px;height:22px;color:#2c2c30;transform:scale(0.4516,0.5);">FPS(&gt;=)</span>
<span class="t" style="left:658.90px;top:142px;font-size:19.6px;line-height:30px;height:30px;color:#333;transform:scale(0.4634,0.5);">18</span>
<span class="t" style="left:693.70px;top:142px;font-size:19.6px;line-height:30px;height:30px;color:#333;transform:scale(0.4404,0.5);">25</span>
<span class="t" style="left:723.90px;top:145px;font-size:16.8px;line-height:26px;height:26px;color:#3a62fa;transform:scale(0.5033,0.5);-webkit-text-stroke:0.40px #3a62fa;">重置</span>
<span class="t" style="left:397.30px;top:175px;font-size:14.0px;line-height:20px;height:20px;color:#ffffff;transform:scale(0.4816,0.5);">label1</span>
<span class="t" style="left:52.10px;top:210px;font-size:17.4px;line-height:26px;height:26px;color:#4a4a4e;transform:scale(0.4446,0.5);">186</span>
<span class="t" style="left:52.10px;top:224px;font-size:17.4px;line-height:26px;height:26px;color:#4a4a4e;transform:scale(0.4446,0.5);">168</span>
<span class="t" style="left:52.10px;top:238px;font-size:17.4px;line-height:26px;height:26px;color:#4a4a4e;transform:scale(0.4446,0.5);">149</span>
<span class="t" style="left:52.10px;top:252px;font-size:17.4px;line-height:26px;height:26px;color:#4a4a4e;transform:scale(0.4446,0.5);">130</span>
<span class="t" style="left:52.10px;top:266px;font-size:17.4px;line-height:26px;height:26px;color:#4a4a4e;transform:scale(0.4651,0.5);">112</span>
<span class="t" style="left:56.40px;top:280px;font-size:17.4px;line-height:26px;height:26px;color:#4a4a4e;transform:scale(0.4446,0.5);">93</span>
<span class="t" style="left:56.40px;top:294px;font-size:17.4px;line-height:26px;height:26px;color:#4a4a4e;transform:scale(0.4446,0.5);">74</span>
<span class="t" style="left:56.40px;top:308px;font-size:17.4px;line-height:26px;height:26px;color:#4a4a4e;transform:scale(0.4446,0.5);">56</span>
<span class="t" style="left:56.40px;top:322px;font-size:17.4px;line-height:26px;height:26px;color:#4a4a4e;transform:scale(0.4446,0.5);">37</span>
<span class="t" style="left:56.40px;top:336px;font-size:17.4px;line-height:26px;height:26px;color:#4a4a4e;transform:scale(0.4446,0.5);">18</span>
<span class="t" style="left:60.70px;top:350px;font-size:17.4px;line-height:26px;height:26px;color:#4a4a4e;transform:scale(0.4446,0.5);">0</span>
<span class="t" style="left:748.30px;top:195px;font-size:17.4px;line-height:26px;height:26px;color:#4a4a4e;transform:scale(0.4549,0.5);">2</span>
<span class="t" style="left:748.30px;top:272px;font-size:17.4px;line-height:26px;height:26px;color:#4a4a4e;transform:scale(0.4549,0.5);">1</span>
<span class="t" style="left:748.30px;top:350px;font-size:17.4px;line-height:26px;height:26px;color:#4a4a4e;transform:scale(0.4549,0.5);">0</span>
<span class="t" style="left:73.00px;top:362px;font-size:17.4px;line-height:26px;height:26px;color:#4a4a4e;transform:scale(0.4548,0.5);">00:00</span>
<span class="t" style="left:98.24px;top:362px;font-size:17.4px;line-height:26px;height:26px;color:#4a4a4e;transform:scale(0.4640,0.5);">00:14</span>
<span class="t" style="left:133.58px;top:362px;font-size:17.4px;line-height:26px;height:26px;color:#4a4a4e;transform:scale(0.4640,0.5);">00:28</span>
<span class="t" style="left:168.92px;top:362px;font-size:17.4px;line-height:26px;height:26px;color:#4a4a4e;transform:scale(0.4640,0.5);">00:42</span>
<span class="t" style="left:204.26px;top:362px;font-size:17.4px;line-height:26px;height:26px;color:#4a4a4e;transform:scale(0.4640,0.5);">00:56</span>
<span class="t" style="left:239.61px;top:362px;font-size:17.4px;line-height:26px;height:26px;color:#4a4a4e;transform:scale(0.4640,0.5);">01:10</span>
<span class="t" style="left:274.95px;top:362px;font-size:17.4px;line-height:26px;height:26px;color:#4a4a4e;transform:scale(0.4640,0.5);">01:24</span>
<span class="t" style="left:310.29px;top:362px;font-size:17.4px;line-height:26px;height:26px;color:#4a4a4e;transform:scale(0.4640,0.5);">01:38</span>
<span class="t" style="left:345.63px;top:362px;font-size:17.4px;line-height:26px;height:26px;color:#4a4a4e;transform:scale(0.4640,0.5);">01:52</span>
<span class="t" style="left:380.97px;top:362px;font-size:17.4px;line-height:26px;height:26px;color:#4a4a4e;transform:scale(0.4640,0.5);">02:06</span>
<span class="t" style="left:416.31px;top:362px;font-size:17.4px;line-height:26px;height:26px;color:#4a4a4e;transform:scale(0.4640,0.5);">02:20</span>
<span class="t" style="left:451.65px;top:362px;font-size:17.4px;line-height:26px;height:26px;color:#4a4a4e;transform:scale(0.4640,0.5);">02:34</span>
<span class="t" style="left:486.99px;top:362px;font-size:17.4px;line-height:26px;height:26px;color:#4a4a4e;transform:scale(0.4640,0.5);">02:48</span>
<span class="t" style="left:522.34px;top:362px;font-size:17.4px;line-height:26px;height:26px;color:#4a4a4e;transform:scale(0.4640,0.5);">03:02</span>
<span class="t" style="left:557.68px;top:362px;font-size:17.4px;line-height:26px;height:26px;color:#4a4a4e;transform:scale(0.4640,0.5);">03:16</span>
<span class="t" style="left:593.02px;top:362px;font-size:17.4px;line-height:26px;height:26px;color:#4a4a4e;transform:scale(0.4640,0.5);">03:30</span>
<span class="t" style="left:628.36px;top:362px;font-size:17.4px;line-height:26px;height:26px;color:#4a4a4e;transform:scale(0.4640,0.5);">03:44</span>
<span class="t" style="left:663.70px;top:362px;font-size:17.4px;line-height:26px;height:26px;color:#4a4a4e;transform:scale(0.4640,0.5);">03:58</span>
<span class="t" style="left:699.04px;top:362px;font-size:17.4px;line-height:26px;height:26px;color:#4a4a4e;transform:scale(0.4640,0.5);">04:12</span>
<span class="t" style="left:193.75px;top:393px;font-size:16.4px;line-height:24px;height:24px;color:#2e2e33;transform:scale(0.4155,0.5);">FPS</span>
<span class="t" style="left:237.00px;top:393px;font-size:16.4px;line-height:24px;height:24px;color:#2e2e33;transform:scale(0.5168,0.5);">Smooth</span>
<span class="t" style="left:296.70px;top:393px;font-size:16.4px;line-height:24px;height:24px;color:#2e2e33;transform:scale(0.4567,0.5);">1%Low(FPS)</span>
<span class="t" style="left:371.70px;top:393px;font-size:16.4px;line-height:24px;height:24px;color:#2e2e33;transform:scale(0.4827,0.5);">SmallJank</span>
<span class="t" style="left:438.80px;top:393px;font-size:16.4px;line-height:24px;height:24px;color:#2e2e33;transform:scale(0.4534,0.5);">Jank</span>
<span class="t" style="left:485.40px;top:393px;font-size:16.4px;line-height:24px;height:24px;color:#2e2e33;transform:scale(0.4776,0.5);">BigJank</span>
<span class="t" style="left:543.70px;top:393px;font-size:16.4px;line-height:24px;height:24px;color:#2e2e33;transform:scale(0.5114,0.5);">Stutter</span>
<span class="t" style="left:599.00px;top:393px;font-size:16.4px;line-height:24px;height:24px;color:#2e2e33;transform:scale(0.5028,0.5);">InterFrame</span>
<span class="t" style="left:690.40px;top:392px;font-size:15.8px;line-height:24px;height:24px;color:#3a62fa;transform:scale(0.5042,0.5);-webkit-text-stroke:0.40px #3a62fa;">全隐藏</span>
</div>
</body>
</html>
